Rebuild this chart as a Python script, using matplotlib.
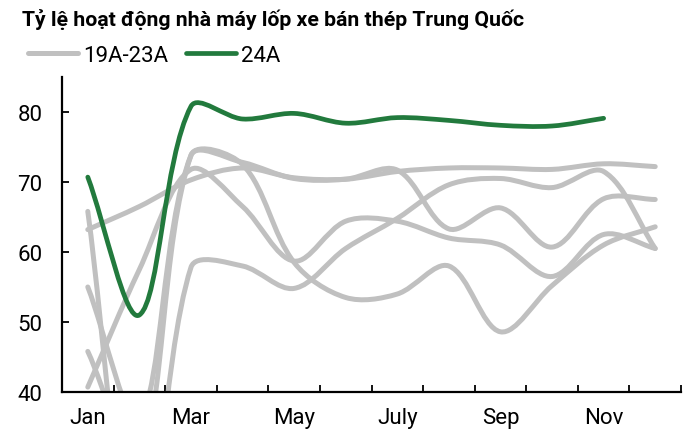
import numpy as np
import matplotlib
matplotlib.use("Agg")
import matplotlib.pyplot as plt
from matplotlib.path import Path
from matplotlib.patches import PathPatch
from matplotlib.lines import Line2D

plt.rcParams['font.family'] = ['Roboto', 'DejaVu Sans']

# ---- data (monthly operating rate, %) ----
months = ['Jan', 'Feb', 'Mar', 'Apr', 'May', 'Jun',
          'July', 'Aug', 'Sep', 'Oct', 'Nov', 'Dec']
hist_a = [63.2, 66.5, 70.3, 72.0, 70.6, 70.4, 71.5, 72.0, 72.0, 71.8, 72.6, 72.2]
hist_b = [65.8, 12.0, 57.8, 58.0, 54.8, 60.5, 64.8, 69.6, 70.5, 69.2, 71.5, 60.5]
hist_c = [55.0, 36.0, 73.8, 72.8, 70.5, 70.4, 71.7, 63.3, 66.3, 60.7, 67.6, 67.5]
hist_d = [40.7, 57.5, 71.8, 66.5, 58.7, 64.4, 64.4, 62.0, 61.0, 56.5, 62.5, 60.5]
hist_e = [45.8, 30.0, 73.8, 72.5, 58.5, 53.5, 54.0, 58.0, 48.6, 55.2, 61.0, 63.6]
y24 = [70.7, 51.0, 80.8, 79.0, 79.8, 78.4, 79.2, 78.8, 78.1, 78.0, 79.1]

GRAY = '#c0c0c0'
GREEN = '#227a3d'


def smooth_path(ax, xs, ys):
    # Excel-like smoothed line, tangents weighted by segment length on screen
    p = np.column_stack([xs, ys]).astype(float)
    s = ax.transData.transform(p)
    n = len(p)
    d = np.hypot(*np.diff(s, axis=0).T)
    verts = [p[0]]
    codes = [Path.MOVETO]
    for i in range(n - 1):
        prev = p[i - 1] if i > 0 else p[i]
        nxt = p[i + 2] if i + 2 < n else p[i + 1]
        dp = d[i - 1] if i > 0 else 0.0
        dn = d[i + 1] if i + 2 < n else 0.0
        c1 = p[i] + (p[i + 1] - prev) * d[i] / (dp + d[i]) / 3
        c2 = p[i + 1] - (nxt - p[i]) * d[i] / (d[i] + dn) / 3
        verts += [c1, c2, p[i + 1]]
        codes += [Path.CURVE4] * 3
    return Path(verts, codes)


fig = plt.figure(figsize=(6.96, 4.35), dpi=100)
ax = fig.add_axes([62 / 696, 1 - 393 / 435, (681 - 62) / 696, (393 - 78) / 435])
ax.set_xlim(-0.5, 11.5)
ax.set_ylim(40, 85)

for s in [hist_a, hist_b, hist_c, hist_d, hist_e]:
    ax.add_patch(PathPatch(smooth_path(ax, range(len(s)), s), fill=False,
                           ec=GRAY, lw=3.6, capstyle='round', joinstyle='round', zorder=2))
ax.add_patch(PathPatch(smooth_path(ax, range(len(y24)), y24), fill=False,
                       ec=GREEN, lw=3.4, capstyle='round', joinstyle='round', zorder=3))

ax.set_yticks([40, 50, 60, 70, 80])
ax.set_xticks(np.arange(-0.5, 12, 1))
ax.set_xticklabels([])
ax.set_xticks(range(0, 12, 2), minor=True)
ax.set_xticklabels(months[::2], minor=True)
ax.tick_params(axis='x', which='major', direction='in', length=5, width=1.3)
ax.tick_params(axis='x', which='minor', length=0, pad=11, labelsize=16)
ax.tick_params(axis='y', direction='in', length=5, width=1.3, pad=14, labelsize=16)

for side in ['top', 'right']:
    ax.spines[side].set_visible(False)
for side in ['left', 'bottom']:
    ax.spines[side].set_linewidth(1.6)

fig.text(22 / 696, 1 - 26 / 435, 'Tỷ lệ hoạt động nhà máy lốp xe bán thép Trung Quốc',
         fontsize=15.3, fontweight='bold', va='baseline')

handles = [Line2D([], [], color=GRAY, lw=3.6, solid_capstyle='round'),
           Line2D([], [], color=GREEN, lw=3.4, solid_capstyle='round')]
fig.legend(handles, ['19A-23A', '24A'], loc='center left',
           bbox_to_anchor=(28 / 696, 1 - 56 / 435), ncol=2, frameon=False,
           fontsize=16, handlelength=2.25, handletextpad=0.22, columnspacing=0.8,
           borderpad=0, borderaxespad=0)

fig.savefig('out.png', dpi=100)
